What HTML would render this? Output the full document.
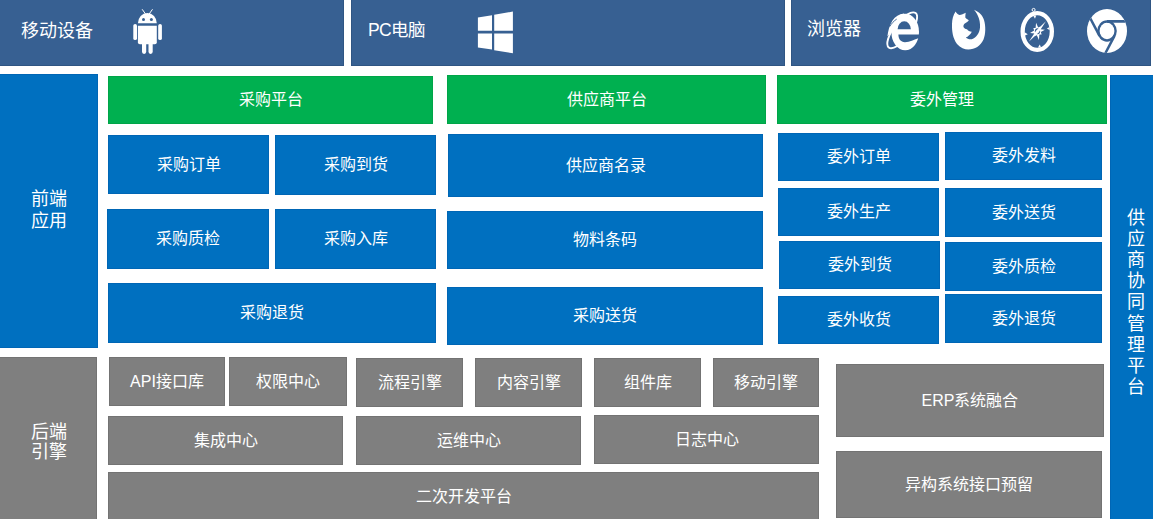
<!DOCTYPE html>
<html lang="zh-CN"><head><meta charset="utf-8">
<style>
*{margin:0;padding:0;box-sizing:border-box}
html,body{width:1153px;height:519px;overflow:hidden;background:#fff}
body{position:relative;font-family:"Liberation Sans",sans-serif;color:#fff}
.bx{position:absolute;display:flex;align-items:center;justify-content:center;font-size:16px;line-height:1;white-space:nowrap}
.b{background:#0070C0;border:1px solid #0066B5}
.g{background:#00B050;border:1px solid #00A548}
.k{background:#7F7F7F;border:1px solid #737373}
.t{background:#376092;border:1px solid #2F5583}
.lbl{position:absolute;font-size:18px;line-height:1;white-space:nowrap}
.icons{position:absolute;left:0;top:0}
</style></head><body>
<div class="bx t" style="left:-2px;top:-2px;width:346px;height:68px"></div>
<div class="bx t" style="left:351px;top:-2px;width:434px;height:68px"></div>
<div class="bx t" style="left:791px;top:-2px;width:360px;height:68px"></div>
<div class="lbl" style="left:20.8px;top:22px">移动设备</div>
<div class="lbl" style="left:368px;top:21.8px;font-size:17.5px"><span style="letter-spacing:-0.7px">PC</span>电脑</div>
<div class="lbl" style="left:807px;top:20.4px">浏览器</div>
<svg class="icons" width="1153" height="66" viewBox="0 0 1153 66"><g fill="#fff">
<line x1="145.4" y1="13.8" x2="142.4" y2="9.6" stroke="#fff" stroke-width="1" stroke-linecap="round"/>
<line x1="149.3" y1="13.8" x2="152.3" y2="9.6" stroke="#fff" stroke-width="1" stroke-linecap="round"/>
<path d="M137.9,23.3 A9.45,10.4 0 0 1 156.8,23.3 Z"/>
<circle cx="143.5" cy="19.5" r="1.5" fill="#376092"/>
<circle cx="151.4" cy="19.5" r="1.5" fill="#376092"/>
<path d="M137.9,25.7 H156.8 V42.2 a2,2 0 0 1 -2,2 H139.9 a2,2 0 0 1 -2,-2 Z"/>
<rect x="133.3" y="23.9" width="3.7" height="16.2" rx="1.85"/>
<rect x="158.2" y="23.9" width="3.7" height="16.2" rx="1.85"/>
<rect x="142" y="41" width="4.2" height="12.9" rx="2.1"/>
<rect x="148.5" y="41" width="4.2" height="12.9" rx="2.1"/>
</g><g fill="#fff">
<path d="M477.9,17.5 L492,15.3 L492,30.7 L477.9,30.7 Z"/>
<path d="M494.2,14.7 L512.9,11.6 L512.9,30.7 L494.2,30.7 Z"/>
<path d="M477.9,33.4 L492,33.4 L492,49.5 L477.9,47.4 Z"/>
<path d="M494.2,33.4 L512.9,33.4 L512.9,53.2 L494.2,50.3 Z"/>
</g><g>
<ellipse cx="902.2" cy="30.3" rx="21.8" ry="8.2" transform="rotate(-52 902.2 30.3)" fill="none" stroke="#fff" stroke-width="1.9"/>
<ellipse cx="905.2" cy="32" rx="13.8" ry="18.3" fill="#fff"/>
<path d="M887.4,36.5 C888,31 889.5,25.5 892.5,20.5 C895.3,16.4 899,14.1 904,13.5 L905,18 L893,30 Z" fill="#fff"/>
<path d="M889.7,26.6 C891.5,23.5 893.8,21 896.7,19.1" fill="none" stroke="#376092" stroke-width="0.9"/>
<path d="M897.6,29.3 A6.65,8 0 0 1 910.9,29.3 Z" fill="#376092"/>
<path d="M898.4,34.6 L921,34.6 L921,38.4 L917.6,38.6 C914,39.5 910,42.2 905,42.2 C900.5,42.2 898.4,39 898.4,34.6 Z" fill="#376092"/>
</g><path fill="#fff" d="M955.6,11.4 C953.2,15 952.1,19 952,24 C951.8,31 952.8,38 957,44 C960.5,48 964.5,49.5 968.4,49.5 C975,49.5 980.5,46 983.5,39.5 C985.8,34 985.8,26 984,20 C982.5,15.5 979.5,12 974,9.8 C975.5,11.5 976.5,13 977.5,15 C979.5,19 980.3,23 980,27.5 C979.5,33 976.5,37.5 971.8,39.2 C969.5,39.7 967.5,39 965.8,37.5 C968,36.8 970.5,34.5 971.8,31.8 C969.5,31.5 968,30.5 967,29.2 C965,29 963.6,28 963.4,26.5 C963.4,25 964,24 964.8,23.5 C966.5,22.5 968,21.5 968.8,20.2 C967.5,19.5 966,18.5 965.3,17.5 C965.2,16 965.5,14.5 965.7,12.8 C963.5,14 961.5,14.8 959.5,14.9 C958,14.5 956.5,13 955.6,11.4 Z"/><g>
<ellipse cx="1037.25" cy="31.5" rx="14.6" ry="18.4" fill="none" stroke="#fff" stroke-width="4.3"/>
<circle cx="1033.6" cy="9.9" r="1.5" fill="none" stroke="#fff" stroke-width="1"/>
<g fill="#fff">
<path d="M1033.2,15.5 L1036.2,15.5 L1035.0,18.8 Z"/>
<path d="M1025,32.6 L1025,35.6 L1027.8,34.2 Z"/>
<path d="M1038,47.6 L1041,47.6 L1039.8,44.6 Z"/>
<path d="M1049.6,26.9 L1049.6,29.9 L1046.8,28.4 Z"/>

<g transform="translate(1037.5,31.3) scale(1,1.15)"><path d="M-1.45,-7.46 L0.68,-3.33 L2.80,-4.15 L2.84,-1.88 L7.46,-1.45 L3.33,0.68 L4.15,2.80 L1.88,2.84 L1.45,7.46 L-0.68,3.33 L-2.80,4.15 L-2.84,1.88 L-7.46,1.45 L-3.33,-0.68 L-4.15,-2.80 L-1.88,-2.84 Z"/><circle r="2.6" fill="#376092"/></g><path d="M1029.0,41.6 L1038.68,32.47 L1045.9,21.3 L1036.22,30.43 Z"/>
</g></g><g transform="translate(1107,31) scale(1,1.1)">
<clipPath id="cc"><ellipse cx="0" cy="0" rx="20" ry="20"/></clipPath>
<ellipse cx="0" cy="0" rx="20" ry="20" fill="#fff"/>
<g clip-path="url(#cc)">
<circle cx="0" cy="0" r="9.8" fill="#376092"/>
<circle cx="0" cy="0" r="7.4" fill="#fff"/>
<g stroke="#376092" stroke-width="2.4"><line x1="0.00" y1="-8.70" x2="30.00" y2="-8.70"/><line x1="7.53" y1="4.35" x2="-7.47" y2="30.33"/><line x1="-7.53" y1="4.35" x2="-22.53" y2="-21.63"/></g>
</g></g></svg>
<div class="bx b" style="left:-2px;top:74px;width:100px;height:274px;padding-left:2px;font-size:18px;line-height:21.6px;white-space:normal;text-align:center"><span>前端<br>应用</span></div>
<div class="bx k" style="left:-2px;top:357px;width:99px;height:164px;padding-left:2px;font-size:18px;line-height:20.5px;white-space:normal;text-align:center;padding-top:6px"><span>后端<br>引擎</span></div>
<div class="bx b" style="left:1110px;top:75px;width:45px;height:446px;font-size:18px;line-height:21.2px;white-space:normal;text-align:center;padding-left:6px;padding-top:10px"><span style="width:18px">供应商协同管理平台</span></div>
<div class="bx b" style="left:108px;top:135px;width:161px;height:59px"><span>采购订单</span></div>
<div class="bx b" style="left:275px;top:135px;width:161px;height:60px"><span>采购到货</span></div>
<div class="bx b" style="left:107px;top:209px;width:162px;height:60px"><span>采购质检</span></div>
<div class="bx b" style="left:275px;top:209px;width:161px;height:60px"><span>采购入库</span></div>
<div class="bx b" style="left:108px;top:283px;width:328px;height:60px"><span>采购退货</span></div>
<div class="bx b" style="left:448px;top:134px;width:315px;height:63px"><span>供应商名录</span></div>
<div class="bx b" style="left:447px;top:211px;width:316px;height:58px"><span>物料条码</span></div>
<div class="bx b" style="left:447px;top:287px;width:316px;height:58px"><span>采购送货</span></div>
<div class="bx b" style="left:778px;top:133px;width:161px;height:48px"><span>委外订单</span></div>
<div class="bx b" style="left:945px;top:132px;width:157px;height:48px"><span>委外发料</span></div>
<div class="bx b" style="left:778px;top:188px;width:161px;height:48px"><span>委外生产</span></div>
<div class="bx b" style="left:945px;top:188px;width:157px;height:49px"><span>委外送货</span></div>
<div class="bx b" style="left:779px;top:241px;width:161px;height:48px"><span>委外到货</span></div>
<div class="bx b" style="left:945px;top:242px;width:157px;height:49px"><span>委外质检</span></div>
<div class="bx b" style="left:778px;top:296px;width:161px;height:48px"><span>委外收货</span></div>
<div class="bx b" style="left:945px;top:294px;width:157px;height:49px"><span>委外退货</span></div>
<div class="bx g" style="left:108px;top:76px;width:325px;height:48px"><span>采购平台</span></div>
<div class="bx g" style="left:447px;top:75px;width:319px;height:49px"><span>供应商平台</span></div>
<div class="bx g" style="left:777px;top:75px;width:330px;height:49px"><span>委外管理</span></div>
<div class="bx k" style="left:109px;top:357px;width:116px;height:49px"><span>API接口库</span></div>
<div class="bx k" style="left:229px;top:357px;width:118px;height:49px"><span>权限中心</span></div>
<div class="bx k" style="left:356px;top:358px;width:107px;height:49px"><span>流程引擎</span></div>
<div class="bx k" style="left:475px;top:358px;width:107px;height:49px"><span>内容引擎</span></div>
<div class="bx k" style="left:594px;top:358px;width:107px;height:49px"><span>组件库</span></div>
<div class="bx k" style="left:713px;top:358px;width:106px;height:49px"><span>移动引擎</span></div>
<div class="bx k" style="left:108px;top:416px;width:235px;height:49px"><span>集成中心</span></div>
<div class="bx k" style="left:356px;top:416px;width:225px;height:49px"><span>运维中心</span></div>
<div class="bx k" style="left:594px;top:415px;width:225px;height:49px"><span>日志中心</span></div>
<div class="bx k" style="left:108px;top:472px;width:711px;height:49px"><span>二次开发平台</span></div>
<div class="bx k" style="left:836px;top:364px;width:268px;height:73px"><span>ERP系统融合</span></div>
<div class="bx k" style="left:836px;top:451px;width:266px;height:67px"><span>异构系统接口预留</span></div>
</body></html>
